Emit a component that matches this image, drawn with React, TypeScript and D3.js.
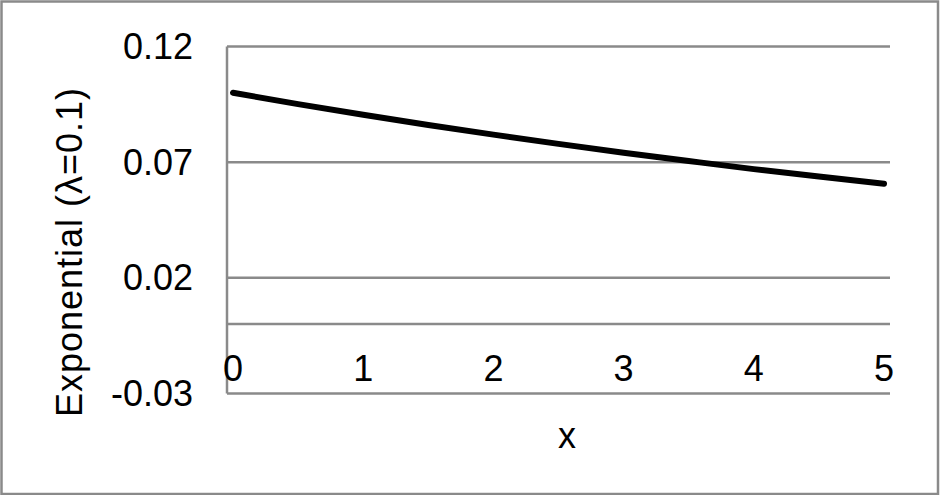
import React from "react";
import * as d3 from "d3";

const xValues = [0, 0.5, 1, 1.5, 2, 2.5, 3, 3.5, 4, 4.5, 5];
const yValues = [0.1, 0.0951, 0.0905, 0.0861, 0.0819, 0.0779, 0.0741, 0.0705, 0.067, 0.0638, 0.0607];
const yTicks = [0.12, 0.07, 0.02, -0.03];
const yTickLabels = ["0.12", "0.07", "0.02", "-0.03"];
const xTicks = [0, 1, 2, 3, 4, 5];
const xTickLabels = ["0", "1", "2", "3", "4", "5"];
const xTitle = "x";
const yTitle = "Exponential (λ=0.1)";

const W = 940;
const H = 495;
const plotLeft = 227;
const plotRight = 890;

export default function App() {
  const x = d3.scaleLinear().domain([0, 5]).range([233, 884]);
  const y = d3.scaleLinear().domain([-0.03, 0.12]).range([393.5, 46.5]);
  const pts = xValues.map((v, i) => [v, yValues[i]] as [number, number]);
  const line = d3
    .line<[number, number]>()
    .x((d) => x(d[0]))
    .y((d) => y(d[1]))
    .curve(d3.curveMonotoneX);
  const font = "'Liberation Sans', Arial, sans-serif";
  const grid = "#8a8a8a";
  const gridLines = [...yTicks, 0];
  return (
    <svg
      width={W}
      height={H}
      style={{ position: "absolute", left: 0, top: 0, background: "#fff" }}
      fontFamily={font}
    >
      <rect x={1.5} y={1.5} width={W - 3.5} height={H - 2.5} fill="#fff" stroke={grid} strokeWidth={2.5} />
      {gridLines.map((t) => (
        <line key={"g" + t} x1={plotLeft} x2={plotRight} y1={y(t)} y2={y(t)} stroke={grid} strokeWidth={2.5} />
      ))}
      <line x1={plotLeft} x2={plotLeft} y1={y(0.12)} y2={y(-0.03)} stroke={grid} strokeWidth={2.5} />
      {yTicks.map((t, i) => (
        <text key={"yt" + t} x={193} y={y(t)} dy="0.35em" textAnchor="end" fontSize={36} fill="#000">
          {yTickLabels[i]}
        </text>
      ))}
      {xTicks.map((t, i) => (
        <text key={"xt" + t} x={x(t)} y={381} textAnchor="middle" fontSize={36} fill="#000">
          {xTickLabels[i]}
        </text>
      ))}
      <path d={line(pts) || ""} fill="none" stroke="#000" strokeWidth={6} strokeLinecap="round" />
      <text x={567} y={448} textAnchor="middle" fontSize={36} fill="#000">
        {xTitle}
      </text>
      <text
        transform={`translate(82, 252) rotate(-90)`}
        textAnchor="middle"
        fontSize={36}
        letterSpacing={1}
        fill="#000"
      >
        {yTitle}
      </text>
    </svg>
  );
}
